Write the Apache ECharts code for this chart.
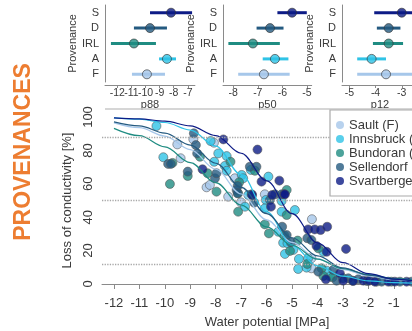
<!DOCTYPE html>
<html><head><meta charset="utf-8">
<script src="https://cdn.jsdelivr.net/npm/echarts@6/dist/echarts.min.js"></script>
<style>html,body{margin:0;padding:0;overflow:hidden;background:#fff;width:412px;height:331px}#c{width:460px;height:331px}</style>
</head><body><div id="c"></div>
<script>
// ---- data ----
const provCodes = ['F', 'A', 'IRL', 'D', 'S'];
const p88Mid = [-9.9, -8.48, -10.82, -9.68, -8.19];
const p88Lo  = [-10.96, -9.04, -12.45, -10.82, -9.68];
const p88Hi  = [-8.62, -7.84, -9.26, -8.48, -6.7];
const p50Mid = [-6.75, -6.3, -7.2, -6.5, -5.6];
const p50Lo  = [-7.8, -6.8, -8.2, -7.05, -6.2];
const p50Hi  = [-5.7, -5.75, -6.1, -5.95, -5.0];
const p12Mid = [-3.6, -4.15, -3.5, -3.5, -3.0];
const p12Lo  = [-4.7, -4.7, -4.1, -3.95, -4.05];
const p12Hi  = [-2.4, -3.6, -2.95, -3.05, -1.9];
const p88Ticks = [-12, -11, -10, -9, -8, -7];
const p50Ticks = [-8, -7, -6, -5];
const p12Ticks = [-5, -4, -3];

const seriesNames = ['Sault (F)', 'Innsbruck (A)', 'Bundoran (IRL)', 'Sellendorf (D)', 'Svartberget (S)'];
const xTicks = [-12, -11, -10, -9, -8, -7, -6, -5, -4, -3, -2, -1, 0];
const refLevels = [88, 50, 12];

const saultPts = [[-9.51,83.6],[-9.38,75.3],[-8.88,86.6],[-8.07,84.6],[-8.36,57.9],[-8.23,59.3],[-7.51,52.3],[-7.25,63.3],[-7.01,48.9],[-6.07,53.7],[-4.22,38.8],[-4.24,15.4],[-4.24,9.4]];
const innsbruckPts = [[-10.33,94.6],[-10.06,75.9],[-8.2,85.6],[-7.9,78.2],[-7.57,76.6],[-8.06,73.2],[-7.64,70.7],[-7.57,67.8],[-6.98,65.3],[-6.92,63.3],[-6.62,68.3],[-5.93,64.3],[-6.03,50.3],[-6.85,46.3],[-6.07,45.3],[-5.41,49.7],[-4.89,44.3],[-5.41,43.3],[-6.72,53.3],[-5.54,31.3],[-5.35,24.7],[-5.18,24.4],[-5.28,18],[-4.95,20.4],[-4.73,15],[-4.76,9],[-4.43,9.8],[-4.37,15.4],[-3.77,19.3],[-3.64,8],[-3.5,4.5]];
const bundoranPts = [[-9.7,72.5],[-9.8,59.9],[-8.62,76.2],[-9.1,64.7],[-8.32,66.3],[-7.97,55.3],[-7.42,73.2],[-7.12,43.3],[-7.12,54.3],[-7.08,60.9],[-6.46,67.8],[-5.21,56.3],[-5.21,41.3],[-6.07,35.7],[-5.91,30.3],[-4.78,26],[-5.08,19.8],[-3.97,21.4],[-3.84,9.4],[-3.77,4.8],[-3.41,4],[-2.62,2],[-5.3,29],[-4.4,12],[-3.0,3.5]];
const sellendorfPts = [[-9.87,71.9],[-9.76,71.9],[-8.86,90.2],[-8.78,83.2],[-8.73,78.2],[-9.1,67.3],[-8.03,63.3],[-7.97,66.3],[-7.14,58.7],[-7.18,56.3],[-7.14,54.3],[-6.66,70.2],[-6.4,70.2],[-6.59,53.7],[-5.67,53.7],[-5.87,50.3],[-6.49,48.7],[-5.41,53.7],[-5.39,34.3],[-5.21,29.3],[-5.05,25],[-4.4,27.4],[-4.24,26.3],[-3.97,7.4],[-3.38,8.4],[-3.25,2],[-2.79,3.4],[-2.4,2.8],[-2.05,1.8],[-1.68,1.4],[-1.48,1.4],[-1.1,1.4],[-0.76,1.4],[-0.3,1.4]];
const svartbergetPts = [[-7.7,86.6],[-8.52,68.7],[-6.36,80.5],[-6.2,61.3],[-5.5,61.9],[-5.31,53.7],[-6.57,53.3],[-5.78,53.3],[-5.28,53.7],[-5.83,46.3],[-4.37,32.7],[-4.11,32.7],[-3.88,32.3],[-3.62,34.3],[-4.04,22.8],[-3.64,19.3],[-2.88,21],[-3.12,6.4],[-3.67,2.8],[-2.99,2],[-2.6,1.8],[-2.2,2],[-1.97,2],[-1.75,1.4],[-1.22,1.4],[-0.96,1.4],[-0.5,1.4]];

// fitted vulnerability curves, read at each MPa
const curveX   = [-12, -11, -10, -9, -8, -7, -6, -5, -4, -3, -2, -1, 0];
const curveF   = [96.5, 93.6, 88.6, 80.5, 68.7, 53.9, 38.4, 24.9, 15.0, 8.6, 4.8, 2.6, 1.4];
const curveA   = [99.5, 98.7, 96.7, 92.2, 82.6, 65.5, 43.2, 23.3, 10.9, 4.7, 1.9, 0.8, 0.3];
const curveIRL = [93.2, 88.8, 82.1, 72.7, 60.7, 47.3, 34.2, 23.2, 14.9, 9.2, 5.6, 3.3, 1.9];
const curveD   = [97.1, 94.7, 90.4, 83.2, 72.3, 57.9, 42.1, 27.7, 16.8, 9.6, 5.3, 2.9, 1.5];
const curveS   = [99.5, 98.9, 97.5, 94.7, 88.9, 78.3, 61.8, 42.1, 24.6, 12.8, 6.2, 2.9, 1.3];

// ---- styles ----
const colors = ['#a6c7ea', '#2fc3e6', '#1f8c82', '#245a80', '#0d1b86'];
const axisGray = '#8a8a8a';
const txt = '#3a3a3a';
const font = 'Liberation Sans, Arial, sans-serif';

const chart = echarts.init(document.getElementById('c'));

const panels = [
  {left: 105, width: 89.9, min: -12.87, max: -6.5, ticks: p88Ticks, name: 'p88', lo: p88Lo, mid: p88Mid, hi: p88Hi, gap: 22},
  {left: 223, width: 88.7, min: -8.42, max: -4.8, ticks: p50Ticks, name: 'p50', lo: p50Lo, mid: p50Mid, hi: p50Hi, gap: 17},
  {left: 342, width: 76, min: -5.28, max: -2.38, ticks: p12Ticks, name: 'p12', lo: p12Lo, mid: p12Mid, hi: p12Hi, gap: 19}
];

const grid = [], xAxis = [], yAxis = [], series = [];
function panelXAxis(k, p, labelVals, withName, showLine) {
  return {
    type: 'value', gridIndex: k, min: p.min, max: p.max, offset: 3, position: 'bottom',
    axisLine: {show: showLine, lineStyle: {color: axisGray}},
    axisTick: {show: showLine, customValues: p.ticks, length: 3, lineStyle: {color: axisGray}},
    axisLabel: {customValues: labelVals, showMinLabel: true, showMaxLabel: true, hideOverlap: false,
                fontSize: 10.5, margin: 3, color: txt, fontFamily: font},
    splitLine: {show: false},
    name: withName ? p.name : '', nameLocation: 'middle', nameGap: 14,
    nameTextStyle: {fontSize: 11, color: txt, fontFamily: font}
  };
}
panels.forEach((p, k) => {
  grid.push({left: p.left, top: 5, width: p.width, height: 77, outerBoundsMode: 'none'});
  yAxis.push({
    type: 'category', gridIndex: k, data: provCodes,
    axisLine: {lineStyle: {color: axisGray}},
    axisTick: {show: false},
    axisLabel: {fontSize: 11, margin: 6, color: txt, fontFamily: font},
    name: 'Provenance', nameLocation: 'middle', nameGap: p.gap,
    nameTextStyle: {fontSize: 11, color: txt, fontFamily: font}
  });
});
// x axes of panels (panel 1 gets a second label axis so crowded labels all show)
xAxis.push(panelXAxis(0, panels[0], p88Ticks.filter((v, i) => i % 2 === 0), true, true));
xAxis.push(panelXAxis(1, panels[1], p50Ticks, true, true));
xAxis.push(panelXAxis(2, panels[2], p12Ticks, true, true));
xAxis.push(panelXAxis(0, panels[0], p88Ticks.filter((v, i) => i % 2 === 1), false, false));

panels.forEach((p, k) => {
  series.push({
    type: 'custom', xAxisIndex: k, yAxisIndex: k, clip: true, silent: true,
    data: provCodes.map((c, i) => [p.lo[i], p.hi[i], i]),
    encode: {x: [0, 1], y: 2},
    renderItem: function (params, api) {
      const idx = api.value(2);
      const a = api.coord([api.value(0), idx]);
      const b = api.coord([api.value(1), idx]);
      return {type: 'line', shape: {x1: a[0], y1: a[1], x2: b[0], y2: b[1]},
              style: {stroke: colors[idx], lineWidth: 3}};
    }
  });
  series.push({
    type: 'scatter', xAxisIndex: k, yAxisIndex: k, symbolSize: 9, silent: true, z: 5,
    data: provCodes.map((c, i) => ({value: [p.mid[i], i], itemStyle: {color: colors[i]}})),
    itemStyle: {borderColor: '#333', borderWidth: 0.8}
  });
});

// main plot (grid 3, xAxis index 4, yAxis index 3)
grid.push({left: 102, top: 117, width: 330, height: 167, outerBoundsMode: 'none'});
xAxis.push({
  type: 'value', gridIndex: 3, min: -12.47, max: 0.5, offset: 7,
  axisLine: {lineStyle: {color: axisGray}},
  axisTick: {customValues: xTicks, length: 5, lineStyle: {color: axisGray}},
  axisLabel: {customValues: xTicks, fontSize: 13, margin: 6, color: txt, fontFamily: font},
  splitLine: {show: false},
  name: 'Water potential [MPa]', nameLocation: 'middle', nameGap: 25,
  nameTextStyle: {fontSize: 13, color: txt, fontFamily: font}
});
yAxis.push({
  type: 'value', gridIndex: 3, min: 0, max: 100, interval: 20,
  axisLine: {show: true, lineStyle: {color: axisGray}},
  axisTick: {show: true, length: 5, lineStyle: {color: axisGray}},
  minorTick: {show: true, splitNumber: 2, length: 5, lineStyle: {color: axisGray}},
  axisLabel: {rotate: 90, fontSize: 13, margin: 7, color: txt, fontFamily: font},
  splitLine: {show: false},
  name: 'Loss of conductivity [%]', nameLocation: 'middle', nameGap: 21,
  nameTextStyle: {fontSize: 13, color: txt, fontFamily: font}
});

const ptSets = [saultPts, innsbruckPts, bundoranPts, sellendorfPts, svartbergetPts];
ptSets.forEach((pts, i) => {
  series.push({
    type: 'scatter', name: seriesNames[i], xAxisIndex: 4, yAxisIndex: 3,
    data: pts, symbolSize: 9, silent: true, z: 2,
    itemStyle: {color: colors[i], borderColor: '#555', borderWidth: 0.7}
  });
});
const curves = [curveF, curveA, curveIRL, curveD, curveS];
curves.forEach((cv, i) => {
  const s = {
    type: 'line', name: 'fit' + i, xAxisIndex: 4, yAxisIndex: 3,
    data: curveX.map((x, j) => [x, cv[j]]), showSymbol: false, silent: true,
    smooth: 0.35, smoothMonotone: 'x', z: 3,
    lineStyle: {color: colors[i], width: 1.2}
  };
  if (i === 0) {
    s.markLine = {
      silent: true, symbol: 'none', label: {show: false},
      lineStyle: {type: 'dotted', color: '#a8a8a8', width: 1.3},
      data: refLevels.map(v => ({yAxis: v}))
    };
  }
  series.push(s);
});

chart.setOption({
  backgroundColor: '#fff',
  animation: false,
  grid, xAxis, yAxis, series,
  legend: {
    data: seriesNames, orient: 'vertical', left: 330, top: 110,
    icon: 'circle', itemWidth: 8, itemHeight: 8, itemGap: 0,
    padding: [8, 40, 8, 6], borderColor: '#aaa', borderWidth: 1.2, backgroundColor: '#fff',
    itemStyle: {borderWidth: 0},
    textStyle: {fontSize: 13, lineHeight: 14, color: txt, fontFamily: font},
    z: 10
  },
  graphic: [
    {type: 'line', z: 1, shape: {x1: 105, y1: 109, x2: 460, y2: 109}, style: {stroke: '#c8c8c8', lineWidth: 1.5}},
    {type: 'text', x: 24, y: 152, rotation: Math.PI / 2,
     style: {text: 'PROVENANCES', fill: '#ed7d31', font: 'bold 23px Liberation Sans, Arial, sans-serif',
             textAlign: 'center', textVerticalAlign: 'middle'}}
  ]
});
</script></body></html>
